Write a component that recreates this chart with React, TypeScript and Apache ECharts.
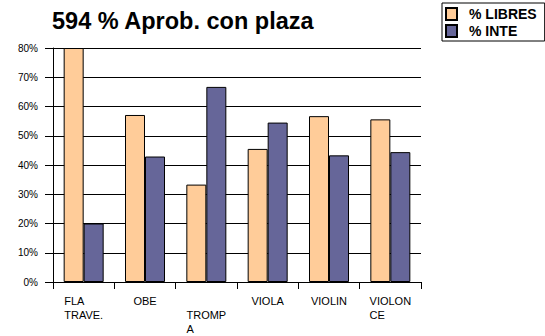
import { useEffect, useRef } from 'react';
import * as echarts from 'echarts';

// Instrument categories (line breaks as they wrap under the axis)
const categories = ['FLA\nTRAVE.', 'OBE', 'TROMP\nA', 'VIOLA', 'VIOLIN', 'VIOLON\nCE'];
// Labels pushed down one row so they don't collide with neighbours
const staggered = [2];

const seriesNames = ['% LIBRES', '% INTE'];
const libres = [80, 57.1, 33.3, 45.5, 56.7, 55.6];
const inte = [20, 42.9, 66.7, 54.5, 43.3, 44.4];

const yMin = 0;
const yMax = 80;
const yStep = 10;

const titleText = '594 % Aprob. con plaza';

const FONT = '"Liberation Sans", Arial, sans-serif';

export default function App() {
  const ref = useRef<HTMLDivElement>(null);

  useEffect(() => {
    if (!ref.current) return;
    const chart = echarts.init(ref.current, undefined, { renderer: 'svg' });
    chart.setOption({
      animation: false,
      backgroundColor: '#ffffff',
      title: {
        text: titleText,
        left: 47,
        top: 4,
        padding: 5,
        textStyle: { fontFamily: FONT, fontSize: 23.5, fontWeight: 'bold', color: '#000' },
      },
      legend: {
        orient: 'vertical',
        left: 442,
        top: 3,
        padding: [4, 8, 3, 3],
        itemWidth: 11,
        itemHeight: 12,
        itemGap: 3,
        icon: 'rect',
        borderColor: '#000',
        borderWidth: 1,
        data: seriesNames,
        textStyle: {
          fontFamily: FONT,
          fontSize: 14,
          lineHeight: 14,
          fontWeight: 'bold',
          color: '#000',
          padding: [0, 0, 0, 7],
        },
      },
      grid: { left: 53, right: 124, top: 48, bottom: 54, containLabel: false },
      xAxis: {
        type: 'category',
        data: categories,
        axisLine: { lineStyle: { color: '#000', width: 1 } },
        axisTick: { show: true, length: 7, lineStyle: { color: '#000' } },
        axisLabel: {
          interval: 0,
          margin: 12,
          fontFamily: FONT,
          fontSize: 11,
          lineHeight: 14,
          color: '#000',
          formatter: (value: string, index: number) => {
            const lines = value.split('\n').map((l) => `{l|${l}}`);
            if (staggered.includes(index)) lines.unshift('{l| }');
            return lines.join('\n');
          },
          rich: {
            l: { align: 'left', fontFamily: FONT, fontSize: 11, lineHeight: 14, color: '#000' },
          },
        },
      },
      yAxis: {
        type: 'value',
        min: yMin,
        max: yMax,
        interval: yStep,
        axisLine: { show: true, lineStyle: { color: '#000', width: 1 } },
        axisTick: { show: true, length: 8, lineStyle: { color: '#000' } },
        axisLabel: {
          margin: 15,
          fontFamily: FONT,
          fontSize: 10,
          color: '#000',
          formatter: '{value}%',
        },
        splitLine: { show: true, lineStyle: { color: '#000', width: 1 } },
      },
      series: [
        {
          name: seriesNames[0],
          type: 'bar',
          data: libres,
          barWidth: 20,
          barGap: '0%',
          itemStyle: { color: '#FFCC99', borderColor: '#000', borderWidth: 1 },
        },
        {
          name: seriesNames[1],
          type: 'bar',
          data: inte,
          barWidth: 20,
          barGap: '0%',
          itemStyle: { color: '#666699', borderColor: '#000', borderWidth: 1 },
        },
      ],
    });
    return () => chart.dispose();
  }, []);

  return (
    <div
      ref={ref}
      style={{ position: 'fixed', left: 0, top: 0, width: 545, height: 336 }}
    />
  );
}
